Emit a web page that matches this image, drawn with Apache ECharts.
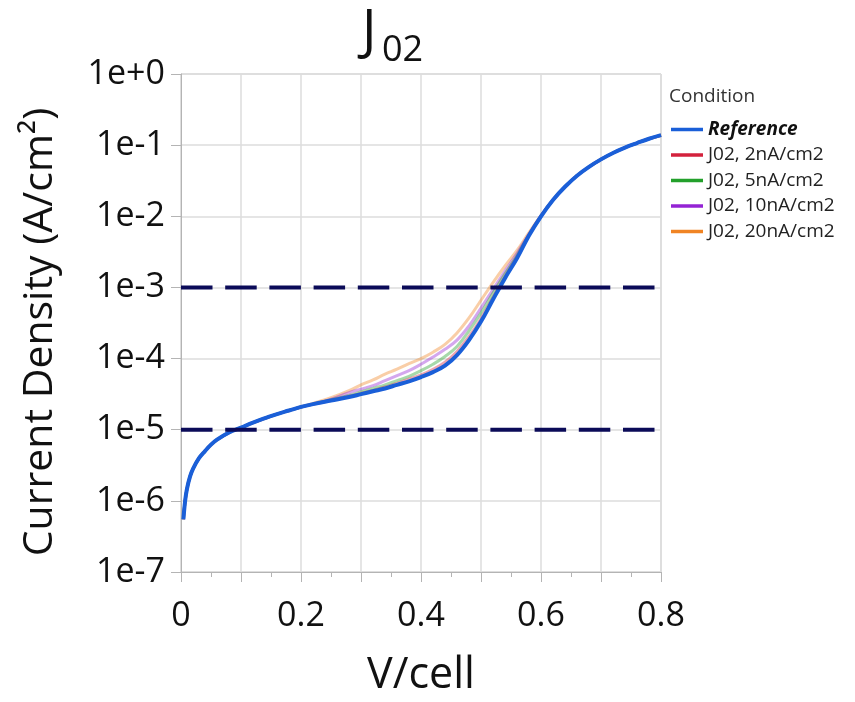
<!DOCTYPE html>
<html>
<head>
<meta charset="utf-8">
<script src="https://cdn.jsdelivr.net/npm/echarts@6.0.0/dist/echarts.min.js"></script>
<style>
  html, body { margin: 0; padding: 0; background: #ffffff; }
  #chart { width: 855px; height: 702px; }
</style>
</head>
<body>
<div id="chart"></div>
<script>
// Cell voltage (V/cell) sample points shared by every curve
const voltage = [0.004, 0.007, 0.01, 0.015, 0.02, 0.03, 0.04, 0.05, 0.06, 0.08, 0.10,
  0.12, 0.14, 0.16, 0.18, 0.20, 0.22, 0.25, 0.28, 0.30, 0.32,
  0.34, 0.36, 0.38, 0.40, 0.42, 0.44, 0.46, 0.48, 0.50, 0.52,
  0.54, 0.56, 0.58, 0.60, 0.62, 0.64, 0.66, 0.68, 0.70, 0.72,
  0.74, 0.76, 0.78, 0.80];

// Current density (A/cm2) for each condition
const reference = [5.50e-7, 1.02e-6, 1.48e-6, 2.19e-6, 2.82e-6, 3.98e-6, 5.01e-6, 6.17e-6, 7.24e-6, 9.12e-6, 1.07e-5,
  1.26e-5, 1.45e-5, 1.66e-5, 1.86e-5, 2.09e-5, 2.29e-5, 2.57e-5, 2.88e-5, 3.16e-5, 3.47e-5,
  3.80e-5, 4.27e-5, 4.79e-5, 5.50e-5, 6.46e-5, 7.94e-5, 1.12e-4, 1.82e-4, 3.31e-4, 6.76e-4,
  1.35e-3, 2.57e-3, 5.37e-3, 1.00e-2, 1.70e-2, 2.60e-2, 3.72e-2, 4.95e-2, 6.31e-2, 7.76e-2,
  9.23e-2, 0.107, 0.123, 0.138];

const j02_2 = [5.50e-7, 1.02e-6, 1.48e-6, 2.19e-6, 2.82e-6, 3.98e-6, 5.01e-6, 6.17e-6, 7.24e-6, 9.12e-6, 1.07e-5,
  1.26e-5, 1.45e-5, 1.66e-5, 1.86e-5, 2.09e-5, 2.29e-5, 2.57e-5, 2.95e-5, 3.24e-5, 3.55e-5,
  3.98e-5, 4.47e-5, 5.13e-5, 5.89e-5, 7.08e-5, 8.91e-5, 1.26e-4, 2.04e-4, 3.63e-4, 7.24e-4,
  1.41e-3, 2.69e-3, 5.50e-3, 1.00e-2, 1.70e-2, 2.60e-2, 3.72e-2, 4.95e-2, 6.31e-2, 7.76e-2,
  9.23e-2, 0.107, 0.123, 0.138];

const j02_5 = [5.50e-7, 1.02e-6, 1.48e-6, 2.19e-6, 2.82e-6, 3.98e-6, 5.01e-6, 6.17e-6, 7.24e-6, 9.12e-6, 1.07e-5,
  1.26e-5, 1.45e-5, 1.66e-5, 1.86e-5, 2.09e-5, 2.29e-5, 2.63e-5, 3.02e-5, 3.39e-5, 3.80e-5,
  4.27e-5, 4.90e-5, 5.62e-5, 6.76e-5, 8.32e-5, 1.07e-4, 1.48e-4, 2.45e-4, 4.37e-4, 8.32e-4,
  1.55e-3, 2.82e-3, 5.50e-3, 1.00e-2, 1.70e-2, 2.60e-2, 3.72e-2, 4.95e-2, 6.31e-2, 7.76e-2,
  9.23e-2, 0.107, 0.123, 0.138];

const j02_10 = [5.50e-7, 1.02e-6, 1.48e-6, 2.19e-6, 2.82e-6, 3.98e-6, 5.01e-6, 6.17e-6, 7.24e-6, 9.12e-6, 1.07e-5,
  1.26e-5, 1.45e-5, 1.66e-5, 1.86e-5, 2.09e-5, 2.29e-5, 2.69e-5, 3.31e-5, 3.72e-5, 4.17e-5,
  4.90e-5, 5.75e-5, 6.76e-5, 8.32e-5, 1.05e-4, 1.35e-4, 1.82e-4, 2.88e-4, 5.13e-4, 9.33e-4,
  1.70e-3, 3.02e-3, 5.62e-3, 1.02e-2, 1.70e-2, 2.60e-2, 3.72e-2, 4.95e-2, 6.31e-2, 7.76e-2,
  9.23e-2, 0.107, 0.123, 0.138];

const j02_20 = [5.50e-7, 1.02e-6, 1.48e-6, 2.19e-6, 2.82e-6, 3.98e-6, 5.01e-6, 6.17e-6, 7.24e-6, 9.12e-6, 1.07e-5,
  1.26e-5, 1.45e-5, 1.66e-5, 1.86e-5, 2.09e-5, 2.34e-5, 2.82e-5, 3.55e-5, 4.27e-5, 5.01e-5,
  6.03e-5, 7.08e-5, 8.51e-5, 1.00e-4, 1.23e-4, 1.58e-4, 2.29e-4, 3.72e-4, 6.61e-4, 1.17e-3,
  2.00e-3, 3.31e-3, 5.89e-3, 1.02e-2, 1.70e-2, 2.60e-2, 3.72e-2, 4.95e-2, 6.31e-2, 7.76e-2,
  9.23e-2, 0.107, 0.123, 0.138];

// Horizontal reference levels (A/cm2)
const thresholds = [1e-3, 1e-5];

// Axis ranges and tick labels
const xRange = [0, 0.8];
const xTickLabels = { '0': '0', '0.2': '0.2', '0.4': '0.4', '0.6': '0.6', '0.8': '0.8' };
const yTickLabels = { '-7': '1e-7', '-6': '1e-6', '-5': '1e-5', '-4': '1e-4', '-3': '1e-3', '-2': '1e-2', '-1': '1e-1', '0': '1e+0' };

const conditionNames = ['Reference', 'J02, 2nA/cm2', 'J02, 5nA/cm2', 'J02, 10nA/cm2', 'J02, 20nA/cm2'];
const conditionData = [reference, j02_2, j02_5, j02_10, j02_20];
const conditionColors = ['#1a5fd8', '#d3213c', '#23a02b', '#9423d4', '#f08424'];

const FONT = '"Open Sans", "Noto Sans", sans-serif';

function pairs(xs, ys) {
  return xs.map((x, i) => [x, ys[i]]);
}

const curveSeries = [];
// faded conditions first (20 -> 2), the reference drawn on top
for (let k = conditionNames.length - 1; k >= 0; k--) {
  const isRef = k === 0;
  curveSeries.push({
    name: conditionNames[k],
    type: 'line',
    data: pairs(voltage, conditionData[k]),
    smooth: 0.4,
    symbol: 'none',
    z: isRef ? 5 : 3,
    color: conditionColors[k],
    lineStyle: { width: isRef ? 4 : 3, opacity: isRef ? 1 : 0.4 }
  });
}

const thresholdSeries = thresholds.map(t => ({
  name: 'level ' + t,
  type: 'line',
  data: [[xRange[0], t], [xRange[1], t]],
  symbol: 'none',
  silent: true,
  z: 6,
  color: '#0b0b58',
  lineStyle: { width: 4, type: [31.5, 12.7], cap: 'butt' }
}));

const chart = echarts.init(document.getElementById('chart'), null, { renderer: 'canvas' });

chart.setOption({
  animation: false,
  backgroundColor: '#ffffff',
  textStyle: { fontFamily: FONT },
  grid: {
    left: 181, top: 74, width: 480, height: 498,
    show: true, borderColor: '#c4c4c4', borderWidth: 1, containLabel: false
  },
  graphic: [
    { type: 'text', left: 362, top: 6, style: { text: 'J', font: '54px ' + FONT, fill: '#111' } },
    { type: 'text', left: 382, top: 33, style: { text: '02', font: '36px ' + FONT, fill: '#111' } },
    { type: 'text', left: 669, top: 87, style: { text: 'Condition', font: '19px ' + FONT, fill: '#333' } }
  ],
  legend: {
    orient: 'vertical',
    left: 671, top: 120, padding: 0,
    itemWidth: 32, itemHeight: 3.5, itemGap: 6.5,
    icon: 'rect',
    textStyle: { fontSize: 19, color: '#222', lineHeight: 18.5, fontFamily: FONT },
    data: conditionNames.map((n, i) => ({
      name: n,
      itemStyle: { opacity: 1 },
      textStyle: i === 0 ? { fontWeight: 'bold', fontStyle: 'italic', color: '#111' } : {}
    }))
  },
  xAxis: {
    type: 'value',
    min: xRange[0], max: xRange[1], interval: 0.1,
    name: 'V/cell', nameLocation: 'middle', nameGap: 82,
    nameTextStyle: { fontSize: 43, color: '#111', fontFamily: FONT },
    axisLine: { show: true, lineStyle: { color: '#b4b4b4', width: 1 } },
    axisTick: { show: true, length: 10, lineStyle: { color: '#b4b4b4' } },
    minorTick: { show: true, splitNumber: 2, length: 5, lineStyle: { color: '#b4b4b4' } },
    splitLine: { show: true, lineStyle: { color: '#dcdcdc', width: 1.5 } },
    axisLabel: {
      margin: 27, fontSize: 34, color: '#111', fontFamily: FONT,
      formatter: v => {
        const key = String(Math.round(v * 10) / 10);
        return xTickLabels[key] !== undefined ? xTickLabels[key] : '';
      }
    }
  },
  yAxis: {
    type: 'log', logBase: 10,
    min: 1e-7, max: 1, splitNumber: 7,
    name: 'Current Density (A/cm²)', nameLocation: 'middle', nameGap: 120, nameRotate: 90,
    nameTextStyle: { fontSize: 41, color: '#111', fontFamily: FONT, padding: [0, 18, 0, 0] },
    axisLine: { show: true, lineStyle: { color: '#b4b4b4', width: 1 } },
    axisTick: { show: true, length: 10, lineStyle: { color: '#b4b4b4' } },
    splitLine: { show: true, lineStyle: { color: '#dcdcdc', width: 1.5 } },
    axisLabel: {
      margin: 16, fontSize: 34, color: '#111', fontFamily: FONT,
      formatter: v => {
        const key = String(Math.round(Math.log10(v)));
        return yTickLabels[key] !== undefined ? yTickLabels[key] : '';
      }
    }
  },
  series: curveSeries.concat(thresholdSeries)
});
</script>
</body>
</html>
